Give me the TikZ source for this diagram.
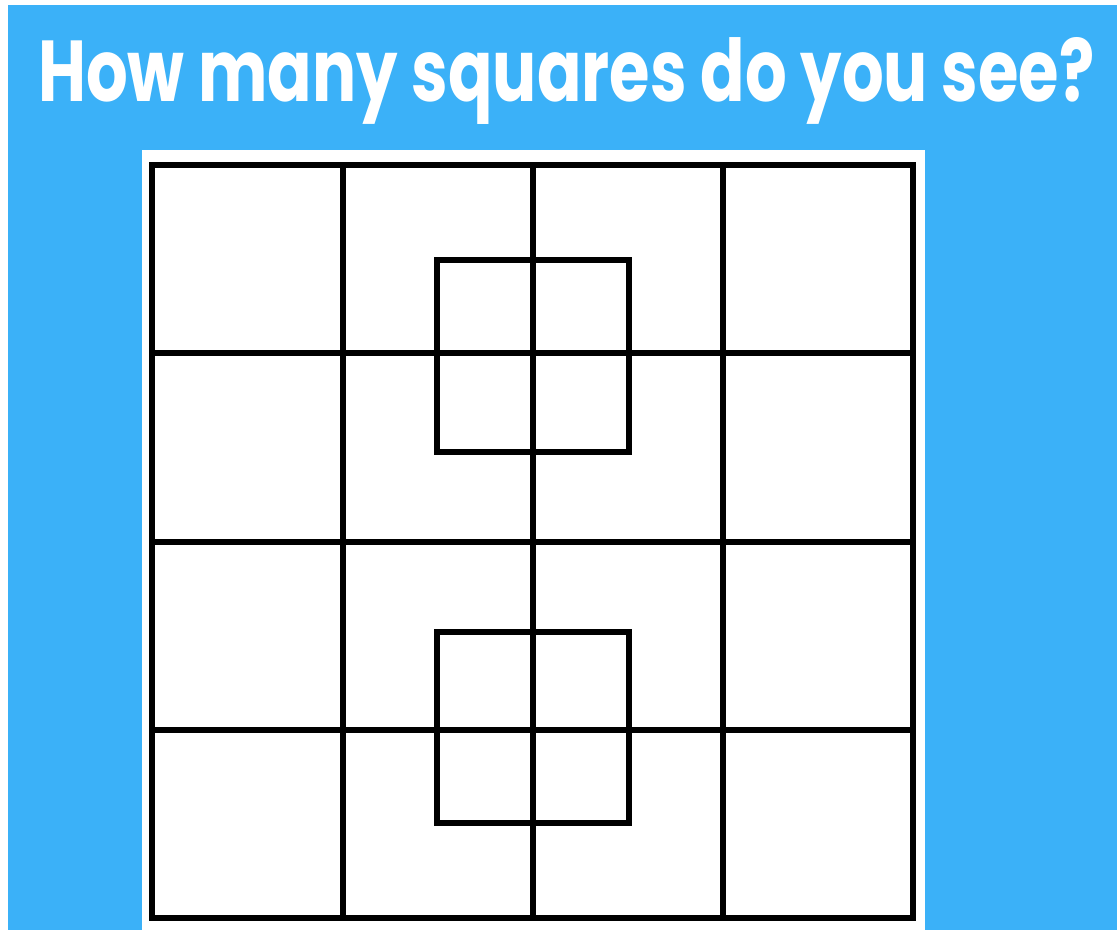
\documentclass[tikz,border=0pt]{standalone}
\usepackage{fontspec}
\setmainfont{Poppins}
\definecolor{skyblue}{HTML}{3BB1F8}
\tikzset{
  gridline/.style={line width=6pt, draw=black, line cap=rect, line join=miter},
}
\begin{document}
\begin{tikzpicture}[x=1pt,y=-1pt]
  \useasboundingbox (0,0) rectangle (1117,930);
  % page background (white margin strip) and blue field
  \fill[white] (0,0) rectangle (1117,930);
  \fill[skyblue] (8,5) rectangle (1117,930);
  % title
  \node[anchor=base west, inner sep=0pt, text=white, font=\bfseries] (title) at (38,101)
    {\resizebox{1056pt}{64pt}{How many squares do you see?}};
  % white panel
  \fill[white] (142,150) rectangle (925,930);
  % 4x4 grid
  \foreach \x in {152,343,533,723,913} {
    \draw[gridline] (\x,165) -- (\x,918);
  }
  \foreach \y in {165,353,542,730,918} {
    \draw[gridline] (152,\y) -- (913,\y);
  }
  % two overlapping inner squares
  \draw[gridline] (437,260) rectangle (629,452);
  \draw[gridline] (437,632) rectangle (629,823);
\end{tikzpicture}
\end{document}
